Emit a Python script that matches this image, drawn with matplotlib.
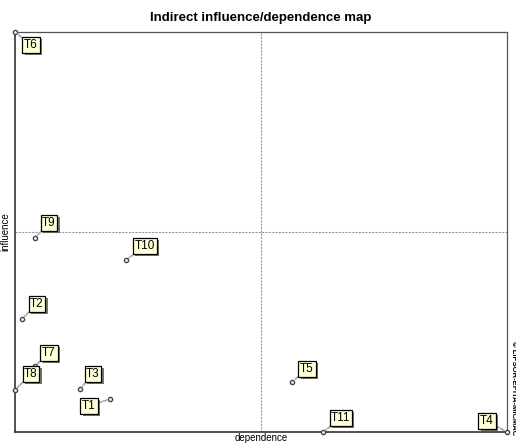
import matplotlib
matplotlib.use('Agg')
import matplotlib.pyplot as plt
import matplotlib.patheffects as pe

plt.rcParams['font.family'] = ['Liberation Sans', 'DejaVu Sans']

# Variables and their indirect dependence / influence
names = ['T1', 'T2', 'T3', 'T4', 'T5', 'T6', 'T7', 'T8', 'T9', 'T10', 'T11']
dependence = [95, 7, 65, 492, 277, 0, 20, 0, 20, 111, 308]
influence = [33, 113, 43, 0, 50, 400, 66, 42, 194, 172, 0]

# label offsets (pixels) from each point
label_dx = [-21, 15, 13, -20, 15, 16, 14, 16, 14, 19, 18]
label_dy = [-7, 15, 15, 11, 13, -13, 13, 16, 15, 14, 14]

x_max = 492
y_max = 400

fig = plt.figure(figsize=(5.16, 4.44), dpi=100)
ax = fig.add_axes([15 / 516, 12 / 444, 492 / 516, 400 / 444])

ax.set_xlim(0, x_max)
ax.set_ylim(0, y_max)

# Quadrant lines
ax.axvline(x_max / 2, color='#999999', linestyle=(0, (2, 1)), linewidth=0.8)
ax.axhline(y_max / 2, color='#999999', linestyle=(0, (2, 1)), linewidth=0.8)

# Points
ax.scatter(dependence, influence, s=9, facecolors='white', edgecolors='#444444',
           linewidths=1.0, zorder=5, clip_on=False)

# Labels with a drop shadow on the box
for name, x, y, dx, dy in zip(names, dependence, influence, label_dx, label_dy):
  ann = ax.annotate(name, (x, y), xytext=(dx, dy), textcoords='offset pixels',
                    ha='center', va='center', fontsize=8.5, color='black',
                    bbox=dict(boxstyle='square,pad=0.14', facecolor='#FFFFD8', edgecolor='black', linewidth=0.9),
                    arrowprops=dict(arrowstyle='-', color='#AAAAAA', linestyle=(0, (2, 1)), linewidth=1.3,
                                    shrinkA=0, shrinkB=2.5),
                    zorder=7, annotation_clip=False)
  ann.get_bbox_patch().set_path_effects([
    pe.SimplePatchShadow(offset=(1.5, -1.5), shadow_rgbFace='#666666', alpha=0.9),
    pe.Normal()])

# Axes styling
ax.set_xticks([])
ax.set_yticks([])
for side in ['left', 'bottom']:
  ax.spines[side].set_color('#333333')
  ax.spines[side].set_linewidth(1.2)
for side in ['top', 'right']:
  ax.spines[side].set_color('#555555')
  ax.spines[side].set_linewidth(0.9)

ax.set_title('Indirect influence/dependence map', fontsize=9.5, fontweight='bold', pad=8)
ax.set_xlabel('dependence', fontsize=7, labelpad=1)
ax.set_ylabel('influence', fontsize=7, labelpad=3)

fig.text(513 / 516, 1 - 388 / 444, '© LIPSOR-EPITA-MICMAC', rotation=-90, fontsize=5.5,
         fontweight='bold', ha='center', va='center')

fig.savefig('out.png', dpi=100)
